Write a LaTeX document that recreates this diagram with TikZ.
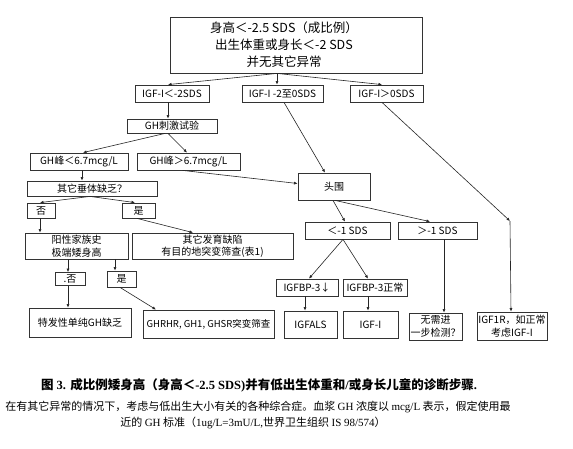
\documentclass[tikz,border=0pt]{standalone}
\usepackage{fontspec}
\setmainfont{Noto Sans CJK SC}
\newfontfamily\tms{Liberation Serif}
\usetikzlibrary{arrows.meta}
\newcommand\fs[2]{\fontsize{#1}{#2}\selectfont}
\tikzset{
  box/.style={draw=black!80, line width=0.8pt, inner sep=1pt, align=center, font=\fs{10}{12.5}},
  arr/.style={-{Latex[length=3.5pt,width=3pt]}, line width=0.6pt, draw=black!85},
  conn/.style={line width=0.6pt, draw=black!85}
}
\begin{document}
\begin{tikzpicture}[x=1pt,y=-1pt]
\useasboundingbox (0,0) rectangle (573,448);
\fill[white] (0,0) rectangle (573,448);
% top
\node[box, minimum width=252pt, minimum height=56pt] (top) at (296,45) {};
\node[font=\fs{12.5}{17}, align=center] (toptext) at (284,45) {身高＜-2.5 SDS（成比例）\\出生体重或身长＜-2 SDS\\并无其它异常};
% row 2
\node[box, minimum width=74pt, minimum height=17pt] (igfA) at (172,93.5) {IGF-I＜-2SDS};
\node[box, minimum width=81pt, minimum height=17pt] (igfB) at (282.5,93.5) {IGF-I -2至0SDS};
\node[box, minimum width=73pt, minimum height=17pt] (igfC) at (386.5,93.5) {IGF-I＞0SDS};
% left branch
\node[box, minimum width=90pt, minimum height=14pt] (ghstim) at (172,126) {GH刺激试验};
\node[box, minimum width=98pt, minimum height=17pt] (ghlow) at (79,161.5) {GH峰＜6.7mcg/L};
\node[box, minimum width=103pt, minimum height=17pt] (ghhigh) at (188.5,161.5) {GH峰＞6.7mcg/L};
\node[box, minimum width=130pt, minimum height=15pt] (pit) at (92,188.5) {其它垂体缺乏？};
\node[box, minimum width=28pt, minimum height=15pt] (no1) at (41,210.5) {否};
\node[box, minimum width=33pt, minimum height=15pt] (yes1) at (138.5,210.5) {是};
\node[box, minimum width=103pt, minimum height=26pt] (fam) at (76.5,246) {阳性家族史\\极端矮身高};
\node[box, minimum width=161pt, minimum height=26pt] (dev) at (212.5,246) {其它发育缺陷\\有目的地突变筛查(表1)};
\node[box, minimum width=30pt, minimum height=13pt] (no2) at (70,279) {.否};
\node[box, minimum width=29pt, minimum height=16pt] (yes2) at (121.5,279) {是};
\node[box, minimum width=102pt, minimum height=29pt] (idio) at (80,322.5) {特发性单纯GH缺乏};
\node[box, minimum width=131pt, minimum height=28pt, font=\fs{9.5}{12}] (ghrhr) at (208.5,324) {GHRHR, GH1, GHSR突变筛查};
% middle branch
\node[box, minimum width=72pt, minimum height=27pt] (headc) at (334,186.5) {头围};
\node[box, minimum width=85pt, minimum height=17pt] (lt1) at (347.5,230.5) {＜-1 SDS};
\node[box, minimum width=79pt, minimum height=17pt] (gt1) at (437.5,230.5) {＞-1 SDS};
\node[box, minimum width=62pt, minimum height=17pt] (bp3d) at (307,287.5) {IGFBP-3↓};
\node[box, minimum width=64pt, minimum height=17pt] (bp3n) at (375,287.5) {IGFBP-3正常};
\node[box, minimum width=53pt, minimum height=27pt] (igfals) at (310.5,324.5) {IGFALS};
\node[box, minimum width=55pt, minimum height=27pt] (igf1) at (370.5,324.5) {IGF-I};
\node[box, minimum width=53pt, minimum height=27pt] (nofurther) at (435.5,326.5) {无需进\\一步检测？};
\node[box, minimum width=70pt, minimum height=28pt] (igf1r) at (512,326) {IGF1R，如正常\\考虑IGF-I};
\coordinate (bend) at (510,221);
% connectors
\draw[arr] ([xshift=-19pt]top.south) -- ([xshift=-4pt]igfA.north);
\draw[arr] ([xshift=-19pt]top.south) -- ([xshift=-5.5pt]igfB.north);
\draw[arr] ([xshift=-19pt]top.south) -- ([xshift=-4.5pt]igfC.north);
\draw[arr] ([xshift=-4pt]igfA.south) -- ([xshift=-4pt]ghstim.north);
\draw[arr] ([xshift=-7pt]ghstim.south) -- ([xshift=4pt]ghlow.north);
\draw[arr] ([xshift=-4pt]ghstim.south) -- ([xshift=-1.5pt]ghhigh.north);
\draw[arr] ([xshift=-6pt]ghhigh.south) -- ([yshift=3pt]headc.west);
\draw[arr] ([xshift=1.5pt]igfB.south) -- ([xshift=-9pt]headc.north);
\draw[arr] ([xshift=3pt]ghlow.south) -- ([xshift=-10pt]pit.north);
\draw[arr] ([xshift=-2pt]pit.south) -- ([xshift=-1pt]no1.north);
\draw[arr] ([xshift=-2pt]pit.south) -- ([xshift=-3.5pt]yes1.north);
\draw[arr] ([xshift=-1pt]no1.south) -- ([xshift=-36.5pt]fam.north);
\draw[arr] ([xshift=-1.5pt]yes1.south) -- ([xshift=-19.5pt]dev.north);
\draw[arr] ([xshift=-8.5pt]fam.south) -- ([xshift=-2pt]no2.north);
\draw[arr] ([xshift=38.5pt]fam.south) -- ([xshift=-6.5pt]yes2.north);
\draw[arr] ([xshift=-2pt]no2.south) -- ([xshift=-12pt]idio.north);
\draw[arr] ([xshift=-1.5pt]yes2.south) -- ([xshift=-52.5pt]ghrhr.north);
\draw[arr] ([xshift=-1pt]headc.south) -- ([xshift=-2.5pt]lt1.north);
\draw[arr] ([xshift=1pt]headc.south) -- ([xshift=-7.5pt]gt1.north);
\draw[arr] ([xshift=-4.5pt]lt1.south) -- ([xshift=2pt]bp3d.north);
\draw[arr] ([xshift=-4.5pt]lt1.south) -- ([xshift=-7pt]bp3n.north);
\draw[arr] ([xshift=-2pt]bp3d.south) -- ([xshift=-5.5pt]igfals.north);
\draw[arr] ([xshift=-7pt]bp3n.south) -- ([xshift=-2.5pt]igf1.north);
\draw[arr] ([xshift=6.5pt]gt1.south) -- ([xshift=8.5pt]nofurther.north);
\draw[arr] ([xshift=-4.5pt]igfC.south) -- (bend);
\draw[arr] (bend) -- ([xshift=-1pt]igf1r.north);
% caption
\node[font=\bfseries\fs{12.5}{15}] (cap1) at (259,385) {图{\tms\bfseries\ 3. }成比例矮身高（身高＜{\tms\bfseries -2.5 SDS)}并有低出生体重和{\tms\bfseries /}或身长儿童的诊断步骤{\tms\bfseries .}};
\node[font=\fs{11}{13}] (cap2) at (258,407) {在有其它异常的情况下，考虑与低出生大小有关的各种综合症。血浆 {\tms GH} 浓度以 {\tms mcg/L} 表示，假定使用最};
\node[font=\fs{11}{13}] (cap3) at (253,423) {近的 {\tms GH} 标准（{\tms 1ug/L=3mU/L,}世界卫生组织 {\tms IS 98/574}）};
\end{tikzpicture}
\end{document}
